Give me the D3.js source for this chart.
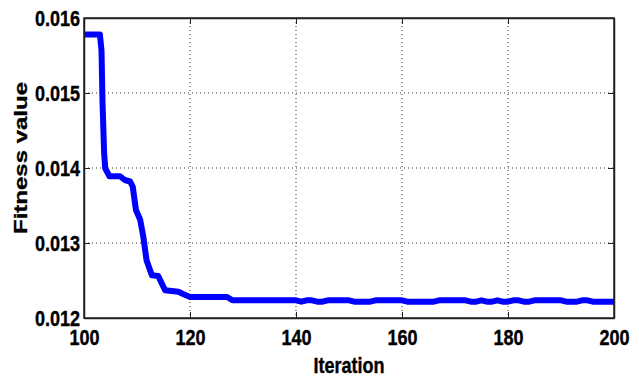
<!DOCTYPE html>
<html>
<head>
<meta charset="utf-8">
<script src="https://cdn.jsdelivr.net/npm/d3@7"></script>
<style>
  body { margin: 0; background: #fff; }
  text { font-family: "Liberation Sans", Arial, sans-serif; font-weight: bold; fill: #000; stroke: #000; stroke-width: 0.4px; }
</style>
</head>
<body>
<svg id="chart" width="639" height="380"></svg>
<script>
// convergence curve
const iterations = [100, 103, 103.3, 103.5, 103.8, 104, 104.8, 106.8, 107.7, 108.7, 109.2, 109.8, 110.6, 111.2,
    111.8, 112.8, 114, 115.3, 117.8, 118.7, 120, 127, 128,
    129, 130, 131, 132, 133, 134, 135, 136, 137, 138, 139, 140, 141, 142, 143, 144, 145, 146, 147, 148, 149, 150,
    151, 152, 153, 154, 155, 156, 157, 158, 159, 160, 161, 162, 163, 164, 165, 166, 167, 168, 169, 170,
    171, 172, 173, 174, 175, 176, 177, 178, 179, 180, 181, 182, 183, 184, 185, 186, 187, 188, 189, 190,
    191, 192, 193, 194, 195, 196, 197, 198, 199, 200];
const fitness = [0.01578, 0.01578, 0.01557, 0.014863, 0.014196, 0.013996, 0.01389, 0.01389, 0.01384, 0.01382,
    0.01375, 0.01344, 0.01331, 0.01308, 0.01277, 0.01257, 0.01256, 0.01237, 0.01235, 0.01232, 0.01228, 0.01228, 0.012236,
    0.012236, 0.012236, 0.012236, 0.012236, 0.012236, 0.012236, 0.012236, 0.012236, 0.012236, 0.012236, 0.012236, 0.012236,
    0.012218, 0.012236, 0.012236, 0.012218, 0.012218, 0.012236, 0.012236, 0.012236, 0.012236, 0.012236,
    0.012218, 0.012218, 0.012218, 0.012218, 0.012236, 0.012236, 0.012236, 0.012236, 0.012236, 0.012236,
    0.012218, 0.012218, 0.012218, 0.012218, 0.012218, 0.012218, 0.012236, 0.012236, 0.012236, 0.012236,
    0.012236, 0.012236, 0.012218, 0.012218, 0.012236, 0.012218, 0.012218, 0.012236, 0.012218, 0.012218,
    0.012236, 0.012236, 0.012218, 0.012218, 0.012236, 0.012236, 0.012236, 0.012236, 0.012236, 0.012236,
    0.012218, 0.012218, 0.012218, 0.012236, 0.012236, 0.012218, 0.012218, 0.012218, 0.012218, 0.012218];

const xTicks = [100, 120, 140, 160, 180, 200];
const yTicks = [0.012, 0.013, 0.014, 0.015, 0.016];

const margin = {left: 84, right: 25, top: 18, bottom: 62};
const width = 639, height = 380;
const w = width - margin.left - margin.right,
    h = height - margin.top - margin.bottom;
const narrow = 0.82; //the source picture is squeezed horizontally

const svg = d3.select('#chart');
const g = svg.append('g').attr('transform', `translate(${margin.left},${margin.top})`);

const x = d3.scaleLinear().domain([100, 200]).range([0, w]);
const y = d3.scaleLinear().domain([0.012, 0.016]).range([h, 0]);

//dotted grid
g.append('g').selectAll('line')
    .data(xTicks.slice(1, -1))
    .enter().append('line')
    .attr('x1', d => x(d)).attr('x2', d => x(d))
    .attr('y1', 0).attr('y2', h)
    .attr('stroke', '#333').attr('stroke-width', 1).attr('stroke-dasharray', '1,3');
g.append('g').selectAll('line')
    .data(yTicks.slice(1, -1))
    .enter().append('line')
    .attr('x1', 0).attr('x2', w)
    .attr('y1', d => y(d)).attr('y2', d => y(d))
    .attr('stroke', '#333').attr('stroke-width', 1).attr('stroke-dasharray', '1,3');

//curve
const line = d3.line()
    .x((d, i) => x(iterations[i]))
    .y(d => y(d));
g.append('path')
    .datum(fitness)
    .attr('d', line)
    .attr('fill', 'none')
    .attr('stroke', '#0000ff')
    .attr('stroke-width', 6)
    .attr('stroke-linejoin', 'round');

//axes, ticks pointing inward like matlab
g.append('g')
    .attr('transform', `translate(0,${h})`)
    .call(d3.axisBottom(x).tickValues(xTicks).tickSizeInner(-6).tickSizeOuter(0).tickPadding(11).tickFormat(d3.format('d')));
g.append('g')
    .call(d3.axisLeft(y).tickValues(yTicks).tickSizeInner(-6).tickSizeOuter(0).tickPadding(4).tickFormat(d3.format('.3f')));
g.append('g')
    .call(d3.axisTop(x).tickValues(xTicks).tickSizeInner(-6).tickSizeOuter(0).tickFormat(''));
g.append('g')
    .attr('transform', `translate(${w},0)`)
    .call(d3.axisRight(y).tickValues(yTicks).tickSizeInner(-6).tickSizeOuter(0).tickFormat(''));

g.selectAll('.domain').attr('stroke', '#222').attr('stroke-width', 1.5);
g.selectAll('.tick line').attr('stroke', '#222');
g.selectAll('.tick text')
    .style('font-size', '22px').style('font-family', null).attr('fill', '#000')
    .attr('transform', `scale(${narrow},1)`)
    .each(function() {
        const t = d3.select(this);
        const x0 = +t.attr('x') || 0;
        t.attr('x', x0 / narrow);
    });

//box
g.append('rect')
    .attr('width', w).attr('height', h)
    .attr('fill', 'none').attr('stroke', '#222').attr('stroke-width', 1.5);

svg.append('text')
    .attr('transform', `translate(${margin.left + w / 2},373) scale(${narrow},1)`)
    .attr('text-anchor', 'middle')
    .style('font-size', '22px')
    .text('Iteration');

//rotated label: squeeze applies across the glyphs, not along them
svg.append('text')
    .attr('transform', `translate(27,158) rotate(-90) scale(1,0.8)`)
    .attr('text-anchor', 'middle')
    .style('font-size', '24px')
    .text('Fitness value');
</script>
</body>
</html>
